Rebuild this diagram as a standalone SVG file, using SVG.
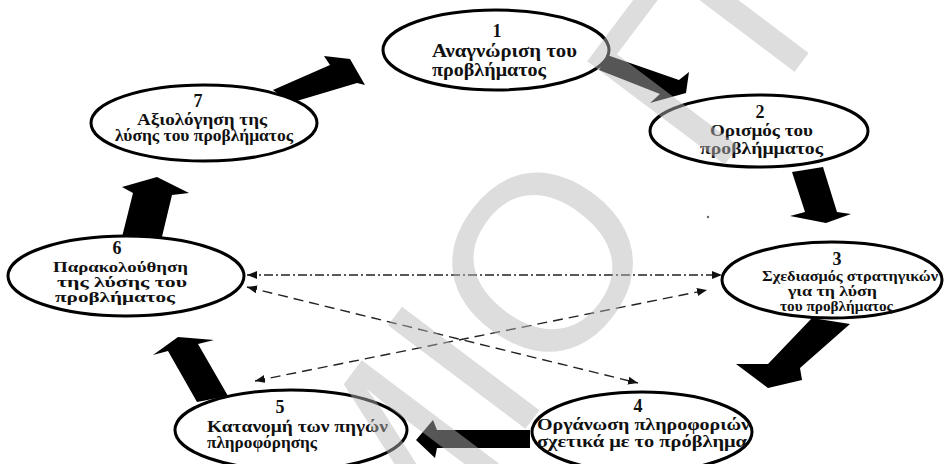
<svg xmlns="http://www.w3.org/2000/svg" width="951" height="464" viewBox="0 0 951 464">
  <style>
    .node ellipse { fill: #ffffff; stroke: #000000; stroke-width: 3; }
    .node text { font-family: "Liberation Serif", "DejaVu Serif", serif; font-weight: bold; fill: #111111; }
    .num { font-size: 18px; text-anchor: middle; }
    .l18 { font-size: 18px; }
    .l17 { font-size: 17px; }
    .l16 { font-size: 16px; }
    .l15 { font-size: 15px; }
    .l14 { font-size: 14px; }
    .flow polygon { fill: #000000; }
    .link { fill: none; stroke: #222222; stroke-width: 1.4; }
    .dashdot { stroke-dasharray: 9 3 2 3; }
    .dashed { stroke-dasharray: 10 6; }
    .wm { font-family: "Liberation Sans", "DejaVu Sans", sans-serif; font-size: 250px; fill: rgb(182,182,182); fill-opacity: 0.47; }
  </style>
  <defs>
    <marker id="tip" viewBox="0 0 10 8" refX="10" refY="4" markerWidth="10" markerHeight="8" markerUnits="userSpaceOnUse" orient="auto-start-reverse">
      <path d="M0,0 L10,4 L0,8 z" fill="#111111"/>
    </marker>
  </defs>

  <rect width="951" height="464" fill="#ffffff"/>

  <!-- block arrows of the cycle -->
  <g id="flow" class="flow">
    <polygon points="273,90 330,65 324,56 350,59 365,85 357,83 290,103"/>
    <polygon points="607,55 679,80 689,72 686,93 650,103 660,94 599,70"/>
    <polygon points="792,172 823,167 837,212 851,214 826,223 790,216 805,212"/>
    <polygon points="812,318 850,324 800,368 802,380 768,388 736,364 768,364"/>
    <polygon points="530,430 437,430 433,420 416,440 435,458 437,448 530,448"/>
    <polygon points="197,402 168,351 153,355 178,337 214,340 198,344 228,396"/>
    <polygon points="120,245 133,193 122,187 157,177 189,193 172,195 160,245"/>
  </g>

  <!-- dashed cross links -->
  <g id="links">
    <line class="link dashdot" x1="247" y1="275" x2="722" y2="275" marker-start="url(#tip)" marker-end="url(#tip)"/>
    <line class="link dashed" x1="247" y1="287" x2="638" y2="383" marker-start="url(#tip)" marker-end="url(#tip)"/>
    <line class="link dashed" x1="255" y1="381" x2="707" y2="290" marker-start="url(#tip)" marker-end="url(#tip)"/>
    <circle cx="708" cy="217" r="1.2" fill="#666666"/>
  </g>

  <g id="node1" class="node">
    <ellipse cx="496" cy="50" rx="113" ry="40"/>
    <text class="num" x="497" y="37">1</text>
    <text class="l18" x="432" y="57" textLength="145" lengthAdjust="spacingAndGlyphs">Αναγνώριση του</text>
    <text class="l18" x="432" y="76" textLength="114" lengthAdjust="spacingAndGlyphs">προβλήματος</text>
  </g>

  <g id="node2" class="node">
    <ellipse cx="759" cy="131" rx="109" ry="36"/>
    <text class="num" x="760" y="118">2</text>
    <text class="l17" x="710" y="136" textLength="103" lengthAdjust="spacingAndGlyphs">Ορισμός του</text>
    <text class="l17" x="700" y="154" textLength="123" lengthAdjust="spacingAndGlyphs">προβλήμματος</text>
  </g>

  <g id="node3" class="node">
    <ellipse cx="832" cy="280" rx="110" ry="38"/>
    <text class="num" x="837" y="265">3</text>
    <text class="l14" x="762" y="281" textLength="176" lengthAdjust="spacingAndGlyphs">Σχεδιασμός στρατηγικών</text>
    <text class="l14" x="788" y="296" textLength="89" lengthAdjust="spacingAndGlyphs">για τη λύση</text>
    <text class="l14" x="780" y="311" textLength="113" lengthAdjust="spacingAndGlyphs">του προβλήματος</text>
  </g>

  <g id="node4" class="node">
    <ellipse cx="642" cy="432" rx="110" ry="40"/>
    <text class="num" x="638" y="412">4</text>
    <text class="l16" x="537" y="430" textLength="213" lengthAdjust="spacingAndGlyphs">Οργάνωση πληροφοριών</text>
    <text class="l16" x="537" y="447" textLength="210" lengthAdjust="spacingAndGlyphs">σχετικά με το πρόβλημα</text>
  </g>

  <g id="node5" class="node">
    <ellipse cx="291" cy="430" rx="116" ry="40"/>
    <text class="num" x="280" y="413">5</text>
    <text class="l16" x="207" y="432" textLength="181" lengthAdjust="spacingAndGlyphs">Κατανομή των πηγών</text>
    <text class="l16" x="207" y="448" textLength="110" lengthAdjust="spacingAndGlyphs">πληροφόρησης</text>
  </g>

  <g id="node6" class="node">
    <ellipse cx="126" cy="276" rx="118" ry="40"/>
    <text class="num" x="117" y="254">6</text>
    <text class="l15" x="53" y="272" textLength="135" lengthAdjust="spacingAndGlyphs">Παρακολούθηση</text>
    <text class="l15" x="57" y="287" textLength="130" lengthAdjust="spacingAndGlyphs">της λύσης του</text>
    <text class="l15" x="55" y="302" textLength="120" lengthAdjust="spacingAndGlyphs">προβλήματος</text>
  </g>

  <g id="node7" class="node">
    <ellipse cx="204" cy="123" rx="113" ry="38"/>
    <text class="num" x="198" y="107">7</text>
    <text class="l16" x="137" y="125" textLength="130" lengthAdjust="spacingAndGlyphs">Αξιολόγηση της</text>
    <text class="l16" x="115" y="141" textLength="178" lengthAdjust="spacingAndGlyphs">λύσης του προβλήματος</text>
  </g>

  <!-- watermark lettering laid over the sheet -->
  <g transform="translate(540,260) rotate(-53)">
    <text class="wm" x="-375" y="90">ΜΙΟ Π</text>
  </g>
</svg>
